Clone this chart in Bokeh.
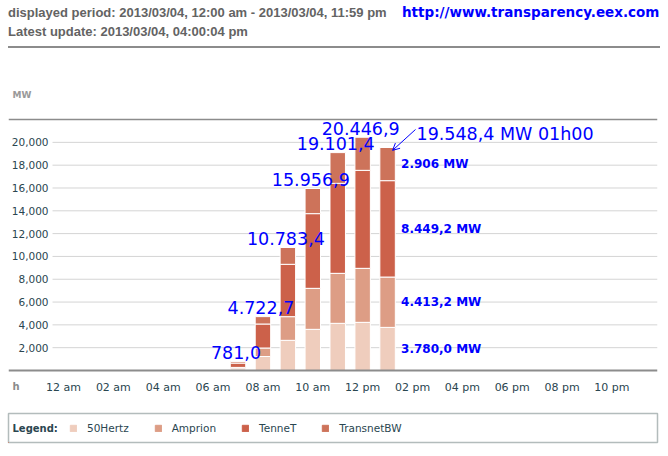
from bokeh.plotting import figure
from bokeh.models import (ColumnDataSource, Range1d, FixedTicker, NumeralTickFormatter,
                          Label, Arrow, OpenHead, Div, Legend, LegendItem)
from bokeh.layouts import column
from bokeh.embed import file_html
from bokeh.resources import INLINE
from bokeh.core.properties import value

# ---------------- data ----------------
hours = [7, 8, 9, 10, 11, 12, 13]
series = ["50Hertz", "Amprion", "TenneT", "TransnetBW"]
hertz50 = [150.0, 1227.0, 2645.0, 3609.0, 4134.0, 4222.0, 3780.0]
amprion = [120.0, 745.0, 2074.0, 3594.0, 4384.0, 4734.0, 4413.2]
tennet = [380.0, 2104.0, 4589.0, 6547.0, 7890.0, 8591.0, 8449.2]
transnetbw = [131.0, 646.7, 1475.4, 2206.9, 2693.4, 2899.9, 2906.0]
colors = ["#efcdbd", "#dd9d85", "#cc614a", "#cd735a"]

tick_hours = [0, 2, 4, 6, 8, 10, 12, 14, 16, 18, 20, 22]
tick_labels = ["12 am", "02 am", "04 am", "06 am", "08 am", "10 am",
               "12 pm", "02 pm", "04 pm", "06 pm", "08 pm", "10 pm"]
y_ticks = [2000, 4000, 6000, 8000, 10000, 12000, 14000, 16000, 18000, 20000]
last_labels = ["3.780,0 MW", "4.413,2 MW", "8.449,2 MW", "2.906 MW"]
last_suffix = " MW 01h00"

period_text = "displayed period: 2013/03/04, 12:00 am - 2013/03/04, 11:59 pm"
update_text = "Latest update: 2013/03/04, 04:00:04 pm"
url_text = "http://www.transparency.eex.com"

# ---------------- helpers ----------------
def eu(v):
    s = f"{v:,.1f}"
    return s.replace(",", "_").replace(".", ",").replace("_", ".")

totals = [round(a + b + c + d, 1) for a, b, c, d in zip(hertz50, amprion, tennet, transnetbw)]
BLUE = "#0000ff"
DARK = "#2a4650"

# ---------------- header ----------------
hdr_font = "font-family:'Liberation Sans',Arial,sans-serif;font-weight:bold;font-size:13px;line-height:15px;color:#636363;white-space:nowrap;"
header = Div(width=660, height=50, margin=(0, 0, 0, 0), text=f"""
<div style="position:relative;width:660px;height:50px;">
 <div style="position:absolute;left:8px;top:5px;{hdr_font}">{period_text}</div>
 <div style="position:absolute;left:402px;top:5px;font-family:'DejaVu Sans';font-weight:bold;font-size:13.5px;line-height:15px;color:{BLUE};white-space:nowrap;">{url_text}</div>
 <div style="position:absolute;left:8px;top:24px;{hdr_font}">{update_text}</div>
 <div style="position:absolute;left:8px;top:46px;width:652px;height:2px;background:#8c8c8c;"></div>
</div>""")

# ---------------- main chart ----------------
PX_PER_H = 24.93
PX_PER_MW = 0.011407
x0 = -2.206
x1 = x0 + 649 / PX_PER_H
y_top = 280 / PX_PER_MW
y_bottom = -36 / PX_PER_MW

p = figure(frame_width=649, frame_height=316, min_border_left=8, min_border_right=3,
           min_border_top=40, min_border_bottom=0,
           x_range=Range1d(x0, x1), y_range=Range1d(y_bottom, y_top),
           output_backend="svg", toolbar_location=None,
           background_fill_color="white", border_fill_color="white",
           outline_line_color=None)
p.xgrid.visible = False
p.ygrid.visible = False

grid_start = -0.44
p.segment(x0=[grid_start] * len(y_ticks), x1=[x1] * len(y_ticks), y0=y_ticks, y1=y_ticks,
          line_color="#d4d4d4", line_width=1)
p.hspan(y=[22000], line_color="#8c8c8c", line_width=1.5)

src = ColumnDataSource(dict(hour=hours, **{"50Hertz": hertz50, "Amprion": amprion,
                                           "TenneT": tennet, "TransnetBW": transnetbw}))
p.vbar_stack(series, x="hour", width=0.62, color=colors, line_color="white",
             line_width=1, source=src)

# y axis drawn inside, at the gridline start
p.yaxis.fixed_location = grid_start
p.yaxis.ticker = FixedTicker(ticks=y_ticks)
p.yaxis.formatter = NumeralTickFormatter(format="0,0")
p.yaxis.axis_line_color = None
p.yaxis.major_tick_line_color = None
p.yaxis.minor_tick_line_color = None
p.yaxis.major_tick_out = 0
p.yaxis.major_tick_in = 0
p.yaxis.major_label_standoff = 4
p.yaxis.major_label_text_font = "DejaVu Sans"
p.yaxis.major_label_text_font_size = "10.5px"
p.yaxis.major_label_text_color = DARK

# x axis drawn at zero
p.xaxis.fixed_location = 0
p.xaxis.ticker = FixedTicker(ticks=tick_hours)
p.xaxis.major_label_overrides = {h: t for h, t in zip(tick_hours, tick_labels)}
p.xaxis.axis_line_color = "#8c8c8c"
p.xaxis.axis_line_width = 2
p.xaxis.major_tick_line_color = None
p.xaxis.minor_tick_line_color = None
p.xaxis.major_tick_out = 0
p.xaxis.major_tick_in = 0
p.xaxis.major_label_standoff = 10
p.xaxis.major_label_text_font = "DejaVu Sans"
p.xaxis.major_label_text_font_size = "11px"
p.xaxis.major_label_text_color = DARK

# total labels
lab_src = ColumnDataSource(dict(x=hours[:-1], y=totals[:-1], t=[eu(v) for v in totals[:-1]]))
p.text(x="x", y="y", text="t", source=lab_src, text_align="center", text_baseline="alphabetic",
       x_offset=-2, y_offset=-9, text_color=BLUE, text_font=value("DejaVu Sans"),
       text_font_size="17.5px")
p.text(x=[hours[-1] + 1.16], y=[totals[-1]], text=[eu(totals[-1]) + last_suffix],
       text_align="left", text_baseline="alphabetic", y_offset=-14, text_color=BLUE,
       text_font=value("DejaVu Sans"), text_font_size="17.5px")
p.add_layout(Arrow(end=OpenHead(size=7, line_color=BLUE, line_width=1),
                   x_start=hours[-1] + 1.12, y_start=totals[-1] + 1580,
                   x_end=hours[-1] + 0.2, y_end=totals[-1] - 250,
                   line_color=BLUE, line_width=1))

# segment labels of the last bar
last_vals = [hertz50[-1], amprion[-1], tennet[-1], transnetbw[-1]]
mids, acc = [], 0.0
for v in last_vals:
    mids.append(acc + v / 2)
    acc += v
p.text(x=[hours[-1]] * 4, y=mids, text=last_labels, text_align="left", text_baseline="middle",
       x_offset=13.5, text_color=BLUE, text_font=value("DejaVu Sans"),
       text_font_style="bold", text_font_size="12px")

p.add_layout(Label(x=4, y=312, x_units="screen", y_units="screen", text="MW",
                   text_font="DejaVu Sans", text_font_style="bold", text_font_size="9px",
                   text_color="#999999", text_baseline="middle"))
p.add_layout(Label(x=4, y=20, x_units="screen", y_units="screen", text="h",
                   text_font="DejaVu Sans", text_font_style="bold", text_font_size="10px",
                   text_color="#8a8a8a", text_baseline="middle"))

# ---------------- legend strip ----------------
lg = figure(frame_width=649, frame_height=29, min_border_left=8, min_border_right=3,
            min_border_top=7, min_border_bottom=4,
            x_range=Range1d(0, 1), y_range=Range1d(0, 1),
            x_axis_location=None, y_axis_location=None,
            output_backend="svg", toolbar_location=None,
            outline_line_color="#b3bcbc", outline_line_width=1.5)
lg.xgrid.visible = False
lg.ygrid.visible = False
items = []
for name, c in zip(series, colors):
    r = lg.vbar(x=[-5], top=[-5], width=0.1, color=c)
    items.append(LegendItem(label=name, renderers=[r]))
legend = Legend(items=items, orientation="horizontal", location=(61, 8),
                glyph_width=8, glyph_height=8, label_standoff=10, spacing=25,
                padding=4, margin=0, border_line_color=None, background_fill_alpha=0,
                label_text_font="DejaVu Sans", label_text_font_size="10.5px",
                label_text_color=DARK)
lg.add_layout(legend)
lg.add_layout(Label(x=4, y=14.5, x_units="screen", y_units="screen", text="Legend:",
                    text_font="DejaVu Sans", text_font_style="bold", text_font_size="10px",
                    text_color=DARK, text_baseline="middle"))

layout = column(header, p, lg)
open("out.html", "w").write(file_html(layout, INLINE))
